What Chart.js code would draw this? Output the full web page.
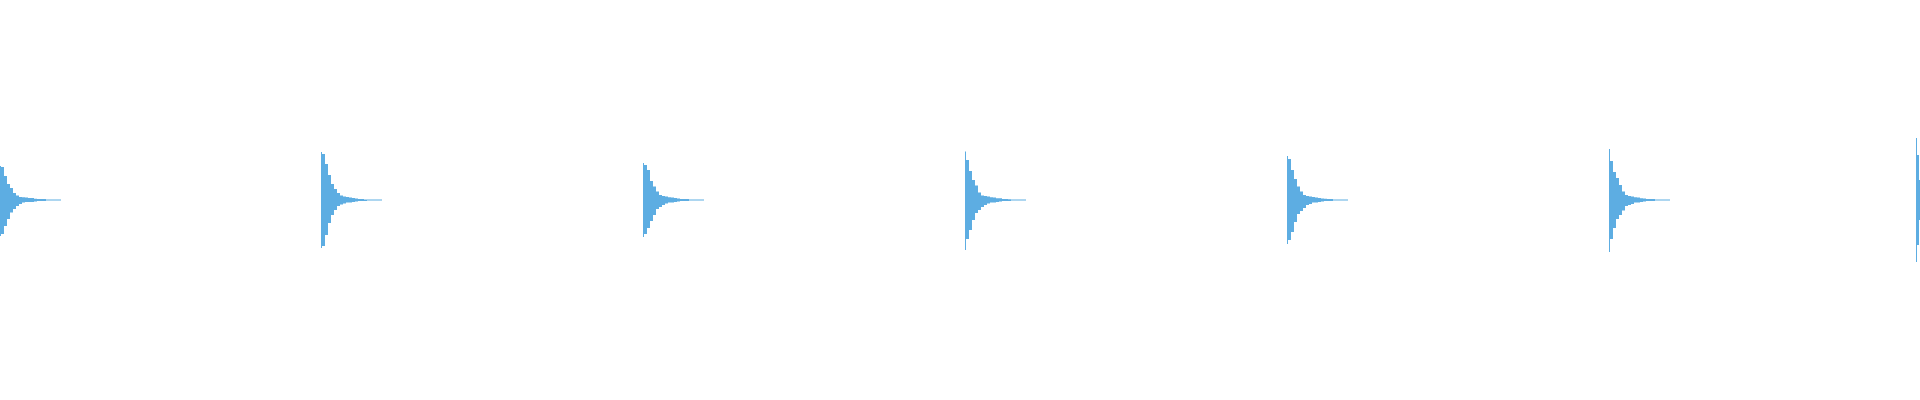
<!DOCTYPE html>
<html>
<head>
<meta charset="utf-8">
<script src="https://cdn.jsdelivr.net/npm/chart.js@4/dist/chart.umd.min.js"></script>
<style>
  html, body { margin: 0; padding: 0; background: #fff; }
  #wrap { width: 1920px; height: 400px; position: relative; }
</style>
</head>
<body>
<div id="wrap"><canvas id="onda"></canvas></div>
<script>
// ===== Dados (tempo em ms, amplitude em % do fundo de escala) =====
const hitStart = [0, 321, 643, 965, 1287, 1609, 1916];
const hitStep = [3, 3, 3, 3, 3, 3, 1];

// pico do primeiro ms de cada batida
const peakMax = [17, 24, 18.5, 24.3, 22, 25.5, 31];
const peakMin = [-18, -24, -18.5, -25, -22, -26, -31];

// envelope a partir do 2º ms
const hit1Max = [16.5, 12, 8, 6, 3.5, 2.3, 1.5, 1.4, 1.3, 1, 1, 0.6, 0.5, 0.5, 0.5, 0.25, 0.25, 0.25, 0.25, 0.25];
const hit1Min = [-17, -13, -9.5, -6.3, -4.5, -3, -2, -1.3, -1, -1, -1, -0.7, -0.5, -0.5, -0.5, -0.25, -0.25, -0.25, -0.25, -0.25];

const hit2Max = [23, 18, 12.5, 8, 5.5, 3.5, 2.3, 1.8, 1.5, 1.3, 1, 0.8, 0.5, 0.5, 0.25, 0.25, 0.25, 0.25, 0.25, 0.25];
const hit2Min = [-23, -17.5, -11.5, -7.5, -5, -3, -2.3, -1.7, -1.2, -1.2, -1, -0.7, -0.5, -0.5, -0.5, -0.25, -0.25, -0.25, -0.25, -0.25];

const hit3Max = [17.5, 15, 9.5, 6.8, 4.3, 2.5, 2, 1.8, 1.4, 1.2, 1, 0.8, 0.5, 0.5, 0.5, 0.25, 0.25, 0.25, 0.25, 0.25];
const hit3Min = [-17, -14, -10.5, -7.5, -4.5, -3.5, -2.5, -1.8, -1.2, -1.2, -1, -0.7, -0.5, -0.5, -0.5, -0.25, -0.25, -0.25, -0.25, -0.25];

const hit4Max = [20, 14.5, 10, 7.3, 3.8, 2.3, 2, 1.8, 1.4, 1.2, 0.9, 0.9, 0.5, 0.5, 0.4, 0.25, 0.25, 0.25, 0.25, 0.25];
const hit4Min = [-19.5, -15, -10, -6.5, -5, -3.5, -2.5, -1.8, -1.2, -1.2, -1, -0.7, -0.5, -0.5, -0.5, -0.25, -0.25, -0.25, -0.25, -0.25];

const hit5Max = [20.5, 15, 10.5, 6.8, 4.3, 2.5, 2, 1.7, 1.5, 1.3, 1, 0.8, 0.6, 0.5, 0.5, 0.25, 0.25, 0.25, 0.25, 0.25];
const hit5Min = [-20, -16, -11, -7, -5.5, -4, -2.5, -2, -1.2, -1.2, -1, -0.7, -0.5, -0.5, -0.5, -0.25, -0.25, -0.25, -0.25, -0.25];

const hit6Max = [19.5, 14, 11, 7.5, 4.3, 2.5, 2, 1.7, 1.4, 1.2, 0.9, 0.8, 0.5, 0.5, 0.5, 0.25, 0.25, 0.25, 0.25, 0.25];
const hit6Min = [-19.5, -14, -9.5, -7.5, -5.3, -3, -2.5, -2, -1.2, -1.2, -1, -0.7, -0.5, -0.5, -0.5, -0.25, -0.25, -0.25, -0.25, -0.25];

const hit7Max = [22.5, 22.5, 10];
const hit7Min = [-22.5, -22.5, -10];

const envMax = [hit1Max, hit2Max, hit3Max, hit4Max, hit5Max, hit6Max, hit7Max];
const envMin = [hit1Min, hit2Min, hit3Min, hit4Min, hit5Min, hit6Min, hit7Min];

const COR = "#5DADE2";

// monta a série de pontos (com quebra entre batidas)
function montarSerie(picos, envelopes) {
  const pts = [];
  hitStart.forEach((t0, h) => {
    const env = envelopes[h];
    const passo = hitStep[h];
    pts.push({ x: t0, y: picos[h] });
    env.forEach((v, i) => pts.push({ x: t0 + 1 + i * passo, y: v }));
    const fim = t0 + 1 + env.length * passo;
    pts.push({ x: fim, y: env[env.length - 1] });
    pts.push({ x: fim, y: null });
  });
  return pts;
}

const ctx = document.getElementById("onda").getContext("2d");
new Chart(ctx, {
  type: "line",
  data: {
    datasets: [
      {
        label: "max",
        data: montarSerie(peakMax, envMax),
        stepped: true,
        fill: "origin",
        backgroundColor: COR,
        borderColor: COR,
        borderWidth: 0,
        pointRadius: 0
      },
      {
        label: "min",
        data: montarSerie(peakMin, envMin),
        stepped: true,
        fill: "origin",
        backgroundColor: COR,
        borderColor: COR,
        borderWidth: 0,
        pointRadius: 0
      }
    ]
  },
  options: {
    responsive: true,
    maintainAspectRatio: false,
    animation: false,
    layout: { padding: 0 },
    plugins: { legend: { display: false }, tooltip: { enabled: false } },
    scales: {
      x: { type: "linear", min: 0, max: 1920, display: false },
      y: { min: -100, max: 100, display: false }
    }
  }
});
</script>
</body>
</html>
